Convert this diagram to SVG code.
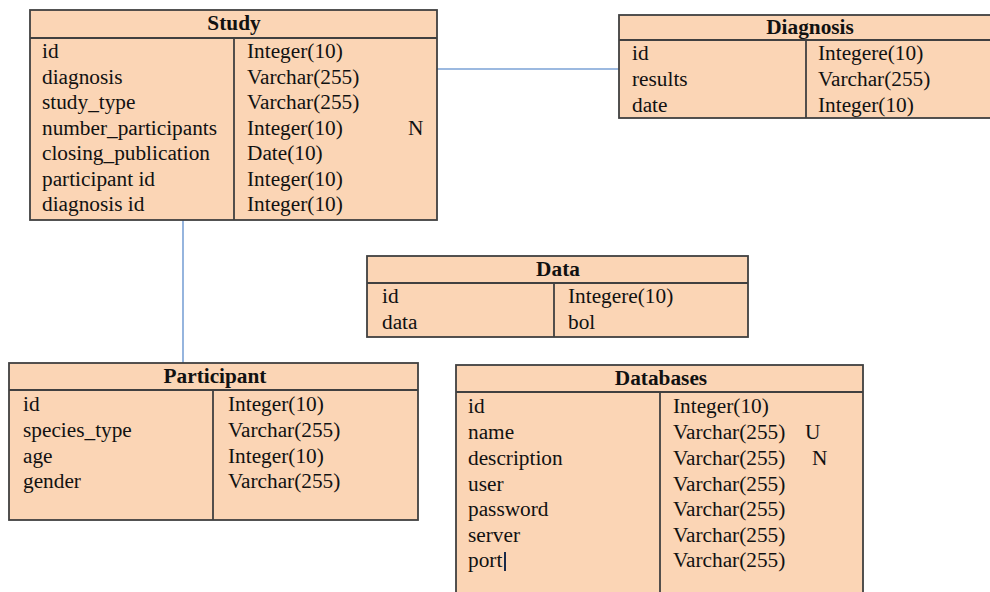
<svg xmlns="http://www.w3.org/2000/svg" width="990" height="592" viewBox="0 0 990 592">
<style>
.box{fill:#FBD5B5;stroke:#404040;stroke-width:1.8}
.ln{stroke:#404040;stroke-width:1.8;fill:none}
.t{font-family:"Liberation Serif","Times New Roman",serif;font-size:21.3px;fill:#111}
.h{font-family:"Liberation Serif","Times New Roman",serif;font-size:21.3px;font-weight:bold;fill:#111;text-anchor:middle}
.conn{stroke:#7BA2D6;stroke-width:1.6;fill:none}
</style>
<rect width="990" height="592" fill="#ffffff"/>
<g id="connectors">
<line class="conn" x1="437" y1="69" x2="619" y2="69"/>
<line class="conn" x1="183" y1="220" x2="183" y2="363"/>
</g>
<g id="study">
<rect class="box" x="30" y="10" width="407" height="210"/>
<line class="ln" x1="30" y1="38" x2="437" y2="38"/>
<line class="ln" x1="234" y1="38" x2="234" y2="220"/>
<text class="h" x="234" y="30">Study</text>
<text class="t" x="42" y="58">id</text>
<text class="t" x="42" y="84">diagnosis</text>
<text class="t" x="42" y="109">study_type</text>
<text class="t" x="42" y="135">number_participants</text>
<text class="t" x="42" y="160">closing_publication</text>
<text class="t" x="42" y="186">participant id</text>
<text class="t" x="42" y="211">diagnosis id</text>
<text class="t" x="247" y="58">Integer(10)</text>
<text class="t" x="247" y="84">Varchar(255)</text>
<text class="t" x="247" y="109">Varchar(255)</text>
<text class="t" x="247" y="135">Integer(10)</text>
<text class="t" x="408" y="135">N</text>
<text class="t" x="247" y="160">Date(10)</text>
<text class="t" x="247" y="186">Integer(10)</text>
<text class="t" x="247" y="211">Integer(10)</text>
</g>
<g id="diagnosis">
<rect class="box" x="619" y="15" width="382" height="103"/>
<line class="ln" x1="619" y1="40" x2="1001" y2="40"/>
<line class="ln" x1="806" y1="40" x2="806" y2="118"/>
<text class="h" x="810" y="34">Diagnosis</text>
<text class="t" x="632" y="60">id</text>
<text class="t" x="632" y="86">results</text>
<text class="t" x="632" y="112">date</text>
<text class="t" x="818" y="60">Integere(10)</text>
<text class="t" x="818" y="86">Varchar(255)</text>
<text class="t" x="818" y="112">Integer(10)</text>
</g>
<g id="data">
<rect class="box" x="367" y="256" width="381" height="81"/>
<line class="ln" x1="367" y1="283" x2="748" y2="283"/>
<line class="ln" x1="554" y1="283" x2="554" y2="337"/>
<text class="h" x="558" y="276">Data</text>
<text class="t" x="382" y="303">id</text>
<text class="t" x="382" y="329">data</text>
<text class="t" x="568" y="303">Integere(10)</text>
<text class="t" x="568" y="329">bol</text>
</g>
<g id="participant">
<rect class="box" x="9" y="363" width="409" height="157"/>
<line class="ln" x1="9" y1="390" x2="418" y2="390"/>
<line class="ln" x1="213" y1="390" x2="213" y2="520"/>
<text class="h" x="215" y="383">Participant</text>
<text class="t" x="23" y="411">id</text>
<text class="t" x="23" y="437">species_type</text>
<text class="t" x="23" y="463">age</text>
<text class="t" x="23" y="488">gender</text>
<text class="t" x="228" y="411">Integer(10)</text>
<text class="t" x="228" y="437">Varchar(255)</text>
<text class="t" x="228" y="463">Integer(10)</text>
<text class="t" x="228" y="488">Varchar(255)</text>
</g>
<g id="databases">
<rect class="box" x="456" y="365" width="407" height="240"/>
<line class="ln" x1="456" y1="392" x2="863" y2="392"/>
<line class="ln" x1="660" y1="392" x2="660" y2="605"/>
<text class="h" x="661" y="385">Databases</text>
<text class="t" x="468" y="413">id</text>
<text class="t" x="468" y="439">name</text>
<text class="t" x="468" y="465">description</text>
<text class="t" x="468" y="491">user</text>
<text class="t" x="468" y="516">password</text>
<text class="t" x="468" y="542">server</text>
<text class="t" x="468" y="567">port</text>
<line x1="505" y1="552" x2="505" y2="571" stroke="#1a2a4a" stroke-width="2"/>
<text class="t" x="673" y="413">Integer(10)</text>
<text class="t" x="673" y="439">Varchar(255)</text>
<text class="t" x="805" y="439">U</text>
<text class="t" x="673" y="465">Varchar(255)</text>
<text class="t" x="812" y="465">N</text>
<text class="t" x="673" y="491">Varchar(255)</text>
<text class="t" x="673" y="516">Varchar(255)</text>
<text class="t" x="673" y="542">Varchar(255)</text>
<text class="t" x="673" y="567">Varchar(255)</text>
</g>
</svg>
